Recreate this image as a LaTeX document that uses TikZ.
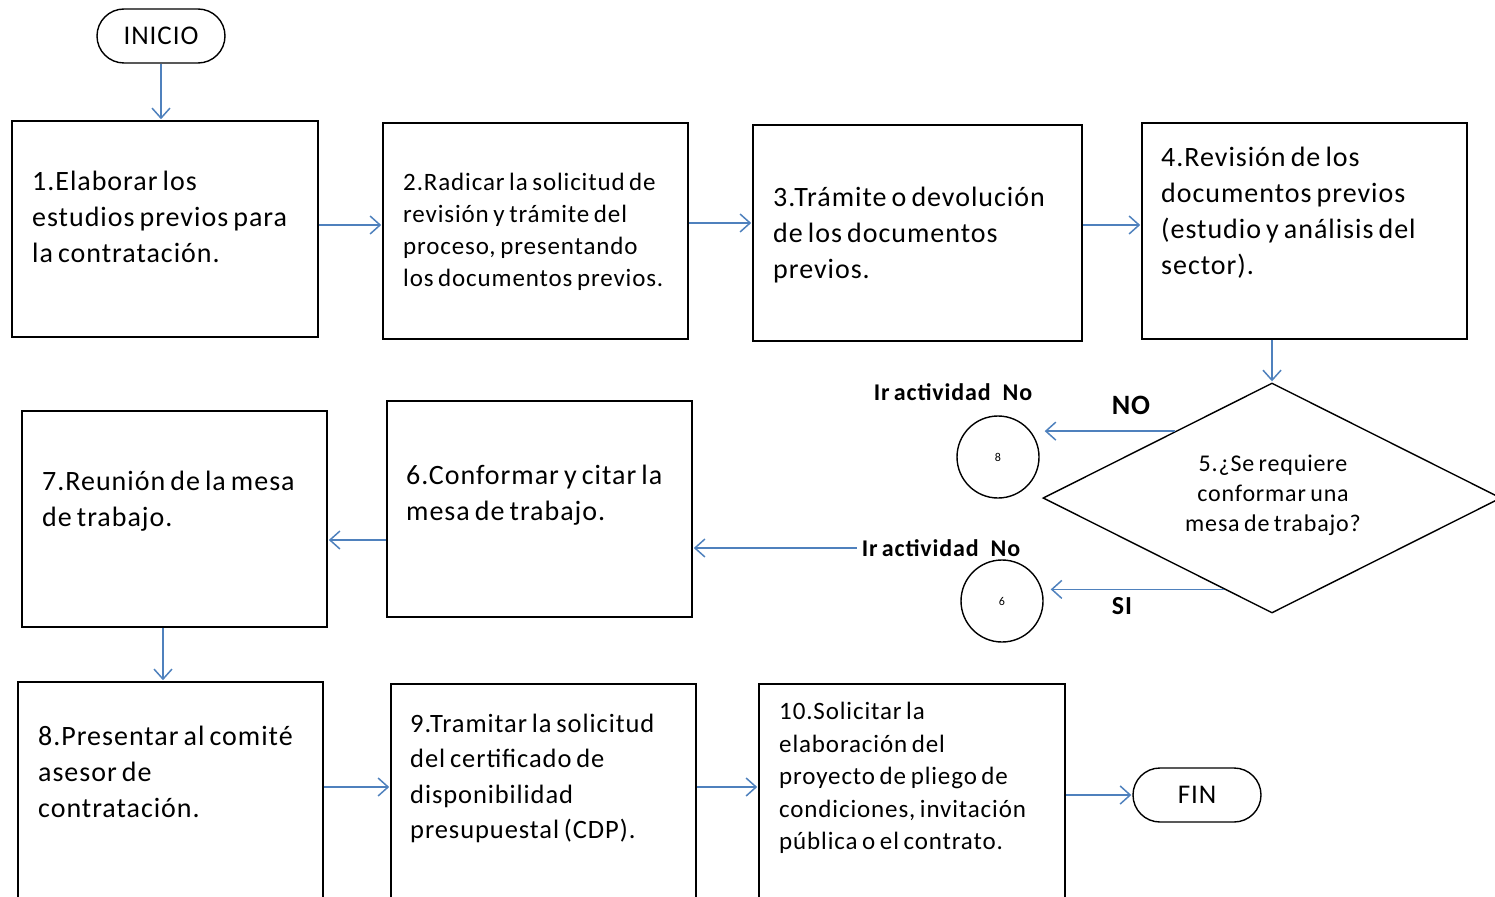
\documentclass[tikz,border=0pt]{standalone}
\usepackage{fontspec}
\setmainfont{Carlito}[LetterSpace=3.5,WordSpace=0.7]
\usetikzlibrary{arrows.meta,shapes.geometric,shapes.misc,calc}
\definecolor{arrblue}{HTML}{4F81BD}
\begin{document}
\begin{tikzpicture}[x=1pt,y=-1pt,
  box/.style={draw=black, line width=1.6pt, inner sep=0pt, minimum width=305pt, minimum height=216pt},
  term/.style={draw=black, line width=1.4pt, rounded rectangle, minimum width=128pt, minimum height=54pt, inner sep=0pt, font=\fontsize{27}{30}\selectfont},
  circ/.style={draw=black, line width=1.4pt, circle, minimum size=82pt, inner sep=0pt, font=\fontsize{12}{14}\selectfont},
  big/.style={anchor=north west, align=left, inner sep=0pt, font=\fontsize{28}{36}\selectfont},
  small/.style={anchor=north west, align=left, inner sep=0pt, font=\fontsize{25}{32}\selectfont},
  lab/.style={inner sep=0pt, font=\bfseries\fontsize{24}{26}\selectfont},
  arr/.style={draw=arrblue, line width=1.6pt, -{Straight Barb[length=10pt,width=18pt,line width=1.5pt]}, shorten >=1pt}
]
\useasboundingbox (0,0) rectangle (1495,896);
\clip (0,0) rectangle (1495,896);

% terminals
\node[term] (ini) at (161,36) {INICIO};
\node[term] (fin) at (1197,795) {FIN};

% boxes
\node[box, minimum width=306pt] (b1) at (165,229) {};
\node[box] (b2) at (535.5,231) {};
\node[box, minimum width=329pt] (b3) at (917.5,233) {};
\node[box, minimum width=325pt] (b4) at (1304.5,231) {};
\node[box] (b6) at (539.5,509) {};
\node[box] (b7) at (174.5,519) {};
\node[box] (b8) at (170.5,790) {};
\node[box] (b9) at (543.5,792) {};
\node[box, minimum width=306pt] (b10) at (912,792) {};

% texts
\node[big] (t1) at (32,171) {1.Elaborar los\\estudios previos para\\la contratación.};
\node[small] (t2) at (403,173) {2.Radicar la solicitud de\\revisión y trámite del\\proceso, presentando\\los documentos previos.};
\node[big] (t3) at (773,187) {3.Trámite o devolución\\de los documentos\\previos.};
\node[big] (t4) at (1161,147) {4.Revisión de los\\documentos previos\\(estudio y análisis del\\sector).};
\node[big] (t6) at (406,465) {6.Conformar y citar la\\mesa de trabajo.};
\node[big] (t7) at (42,471) {7.Reunión de la mesa\\de trabajo.};
\node[big] (t8) at (38,726) {8.Presentar al comité\\asesor de\\contratación.};
\node[big, font=\fontsize{26.5}{35.3}\selectfont] (t9) at (410,714) {9.Tramitar la solicitud\\del certificado de\\disponibilidad\\presupuestal (CDP).};
\node[small, font=\fontsize{25}{32.5}\selectfont] (t10) at (779,702) {10.Solicitar la\\elaboración del\\proyecto de pliego de\\condiciones, invitación\\pública o el contrato.};

% decision
\node[draw=black, line width=1.4pt, diamond, minimum width=458pt, minimum height=230pt, inner sep=0pt] (d) at (1272,498) {};
\node[inner sep=0pt, align=center, font=\fontsize{24}{30}\selectfont] (td) at (1273,495) {5.¿Se requiere\\conformar una\\mesa de trabajo?};

% connectors
\node[circ] (c8) at (998,457) {8};
\node[circ] (c6) at (1002,601) {6};
\node[lab] (l8) at (953,392) {Ir actividad\hspace{12pt}No};
\node[lab] (l6) at (941,548) {Ir actividad\hspace{12pt}No};
\node[lab, font=\bfseries\fontsize{28}{30}\selectfont] (lno) at (1131,405) {NO};
\node[lab, font=\bfseries\fontsize{26}{30}\selectfont] (lsi) at (1122,606) {SI};

% arrows
\draw[arr] (ini.south) -- (ini.south |- b1.north);
\coordinate (a12) at ([yshift=4pt]b1.east);
\draw[arr] (a12) -- (a12 -| b2.west);
\coordinate (a23) at ([yshift=8pt]b2.east);
\draw[arr] (a23) -- (a23 -| b3.west);
\coordinate (a34) at ([yshift=8pt]b3.east);
\draw[arr] (a34) -- (a34 -| b4.west);
\draw[arr] (d.north |- b4.south) -- (d.north);
\coordinate (pno) at ($(d.west)!0.578!(d.north)$);
\draw[arr] (pno) -- ([xshift=4pt]pno -| c8.east);
\coordinate (psi) at ($(d.west)!0.79!(d.south)$);
\draw[arr] (psi) -- ([xshift=6pt]psi -| c6.east);
\coordinate (p6) at ([xshift=-5pt]l6.west);
\draw[arr] (p6) -- (p6 -| b6.east);
\coordinate (a67) at ([yshift=-31pt]b6.west);
\draw[arr] (a67) -- (a67 -| b7.east);
\coordinate (a78) at ([xshift=-11.5pt]b7.south);
\draw[arr] (a78) -- (a78 |- b8.north);
\coordinate (a89) at ([yshift=3pt]b8.east);
\draw[arr] (a89) -- (a89 -| b9.west);
\coordinate (a910) at ([yshift=5pt]b9.east);
\draw[arr] (a910) -- (a910 -| b10.west);
\draw[arr] (b10.east |- fin.west) -- (fin.west);
\end{tikzpicture}
\end{document}
